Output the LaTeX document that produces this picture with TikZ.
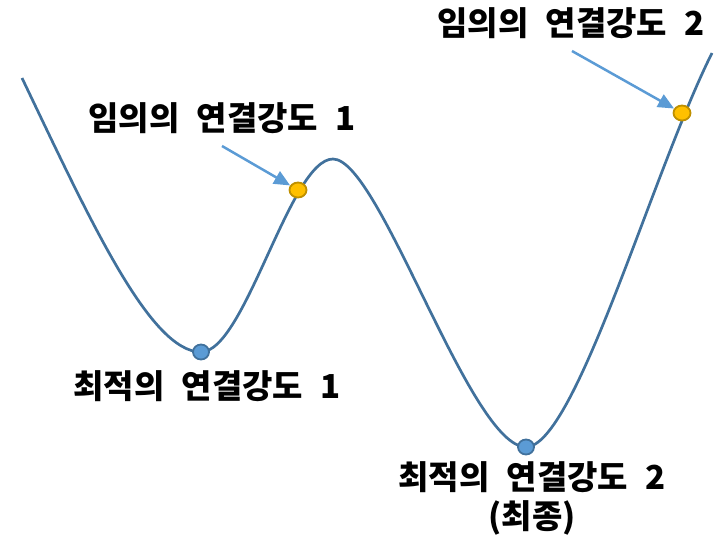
\documentclass[tikz,border=0pt]{standalone}
\usepackage{fontspec}
\newfontfamily\kor{Noto Sans CJK KR}[WordSpace=2.3]
\usetikzlibrary{arrows.meta,shapes.geometric}
\definecolor{curveblue}{HTML}{41719C}
\definecolor{arrowblue}{HTML}{5B9BD5}
\definecolor{dotorange}{HTML}{FFC000}
\definecolor{dotrim}{HTML}{BF9000}
\begin{document}
\begin{tikzpicture}[x=1pt, y=-1pt,
    optdot/.style={draw=curveblue, fill=arrowblue, line width=1.8pt, ellipse, minimum width=16pt, minimum height=15pt, inner sep=0pt},
    rnddot/.style={draw=dotrim, fill=dotorange, line width=1.8pt, ellipse, minimum width=17pt, minimum height=15pt, inner sep=0pt},
    label/.style={font=\kor\bfseries\fontsize{33}{39}\selectfont, align=center, inner sep=0pt},
    pointer/.style={draw=arrowblue, line width=2.5pt, -{Triangle[length=16pt, width=14pt]}}]
    \useasboundingbox (0,0) rectangle (723,536);

    % Kurve
    \draw[curveblue, line width=2.7pt] (22,78) .. controls (90,220) and (150,352) .. (201,352)
        .. controls (245,352) and (290,159) .. (333,159)
        .. controls (380,159) and (470,447) .. (526,447)
        .. controls (575,447) and (652,173) .. (712,53);

    % Punkte
    \node[optdot] (opt1) at (201,352) {};
    \node[optdot] (opt2) at (526,447) {};
    \node[rnddot] (rnd1) at (298,190) {};
    \node[rnddot] (rnd2) at (682,113) {};

    % Beschriftungen
    \node[label] (lrnd1) at (222,118) {임의의 연결강도 1};
    \node[label] (lrnd2) at (571,23) {임의의 연결강도 2};
    \node[label] (lopt1) at (207,386) {최적의 연결강도 1};
    \node[label, anchor=north] (lopt2) at (532,461) {최적의 연결강도 2\\(최종)};

    % Pfeile
    \coordinate (p1) at (222,146);
    \coordinate (p2) at (572,51);
    \draw[pointer] (p1) -- (rnd1);
    \draw[pointer] (p2) -- (rnd2);
\end{tikzpicture}
\end{document}
